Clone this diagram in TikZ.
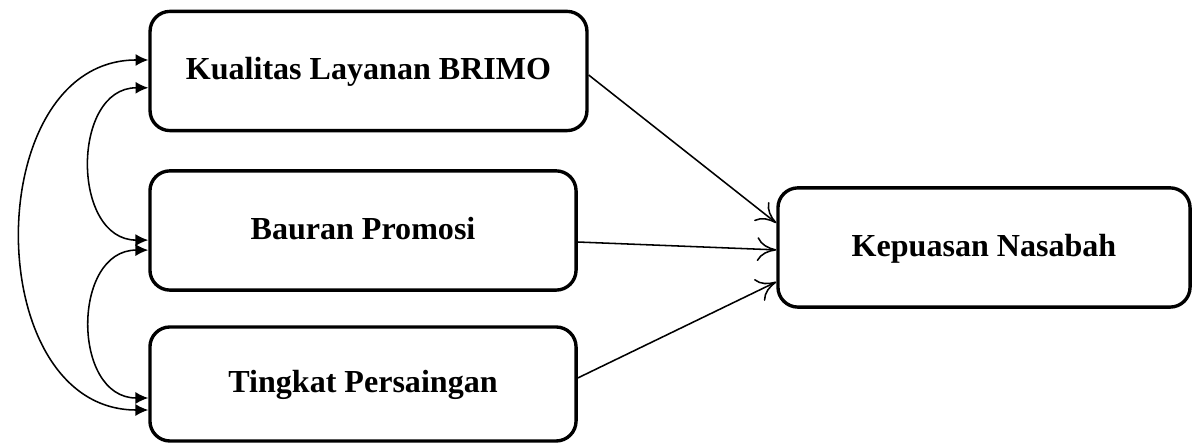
\documentclass[tikz,border=0pt]{standalone}
\usepackage{fontspec}
\setmainfont{Liberation Serif}
\usetikzlibrary{arrows.meta}

\begin{document}
\begin{tikzpicture}[
  x=0.0125cm, y=-0.0125cm,
  factor/.style={draw, line width=1.2pt, rounded corners=0.25cm, minimum width=5.325cm, minimum height=1.49cm, inner sep=0pt, text height=0.62em, text depth=0pt, font=\fontsize{11.4}{13.7}\selectfont\bfseries},
  effect/.style={line width=0.55pt, -{To[length=2.4mm, width=3mm]}},
  corr/.style={line width=0.55pt, {Latex[length=1.6mm, width=1.5mm]}-{Latex[length=1.6mm, width=1.5mm]}},
]
  \useasboundingbox (0,0) rectangle (1192,443);

  % Variabel bebas dan terikat
  \node[factor, minimum width=5.46cm] (kual) at (368.5,71) {Kualitas Layanan BRIMO};
  \node[factor] (baur) at (363,230.5) {Bauran Promosi};
  \node[factor, minimum height=1.425cm] (ting) at (363,384) {Tingkat Persaingan};
  \node[factor, minimum width=5.15cm] (kep) at (984,247.5) {Kepuasan Nasabah};

  % Pengaruh ke Kepuasan Nasabah
  \draw[effect] ([yshift=-0.05cm]kual.east) -- ([yshift=0.306cm]kep.west);
  \draw[effect] ([yshift=-0.144cm]baur.east) -- ([yshift=-0.03cm]kep.west);
  \draw[effect] ([yshift=0.075cm]ting.east) -- ([yshift=-0.43cm]kep.west);

  % Korelasi antar variabel bebas
  \draw[corr] ([yshift=0.1375cm]kual.west) to[out=180, in=180, looseness=1.24] ([yshift=-0.325cm]ting.west);
  \draw[corr] ([yshift=-0.21cm]kual.west) to[out=180, in=180, looseness=1.3] ([yshift=-0.12cm]baur.west);
  \draw[corr] ([yshift=-0.245cm]baur.west) to[out=180, in=180, looseness=1.33] ([yshift=-0.175cm]ting.west);
\end{tikzpicture}
\end{document}
